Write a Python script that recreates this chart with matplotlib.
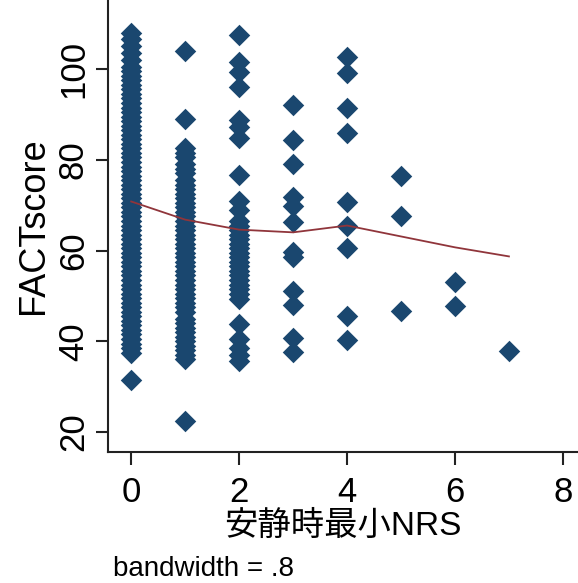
import matplotlib
matplotlib.use('Agg')
import matplotlib.pyplot as plt

plt.rcParams['font.family'] = ['Liberation Sans', 'Noto Sans CJK JP', 'DejaVu Sans']

# FACT score by resting minimum NRS
nrs_0 = [108, 106.5, 105, 103.5, 102, 100.5, 99.5, 98.5, 97.5, 96.5, 95.5, 94.5,
         93.5, 92.5, 91.5, 90.5, 89.5, 88.5, 87.5, 86.5, 85.5, 84.5, 83.5, 82.5,
         81.5, 80.5, 79.5, 78.5, 77.5, 76.5, 75.5, 74.5, 73.5, 72.5, 71.5, 70.5,
         69.5, 68.5, 67.5, 66.5, 65.5, 64.5, 63.5, 62.5, 61.5, 60.5, 59.5, 58.5,
         57.5, 56.5, 55.5, 54.5, 53.5, 52.5, 51.5, 50.5, 49.5, 48.5, 47.5, 46.5,
         45.5, 44.5, 43.5, 42.5, 41.5, 40.5, 39.5, 38.5, 37.5, 31.5]
nrs_1 = [104, 89, 82.5, 81.5, 80.5, 79, 78, 77, 75.5, 74.5, 73.5, 72.5, 71.5,
         70.5, 69.5, 68.5, 67.5, 66.5, 65.5, 64.5, 63.5, 62.5, 61.5, 60.5, 59.5,
         58.5, 57.5, 56.5, 55.5, 54.5, 53.5, 52.5, 51.5, 50.5, 49.5, 48.5, 47.5,
         46.5, 45, 44, 43, 42, 41, 40, 39, 38, 37, 36, 22.4]
nrs_2 = [107.5, 101.5, 99.3, 96, 88.8, 87.2, 84.8, 76.7, 70.8, 69, 66.5, 65.5,
         64.5, 63.5, 62.5, 61.5, 60.5, 59.5, 58.5, 57.5, 56.5, 55.5, 54.5, 53.5,
         52.5, 51.5, 50.5, 49.3, 43.7, 40.4, 38.6, 37, 35.6]
nrs_3 = [92.1, 84.4, 79.1, 71.9, 69.9, 66.2, 59.6, 58.5, 51, 48.1, 40.7, 37.6]
nrs_4 = [102.6, 99.2, 91.3, 86.0, 70.6, 65.3, 60.6, 45.6, 40.2]
nrs_5 = [76.4, 67.5, 46.7]
nrs_6 = [53.1, 47.8]
nrs_7 = [37.8]
groups = [nrs_0, nrs_1, nrs_2, nrs_3, nrs_4, nrs_5, nrs_6, nrs_7]

# lowess smooth, bandwidth .8
lowess_x = [0, 1, 2, 3, 4, 5, 6, 7]
lowess_y = [70.8, 66.8, 64.6, 64.0, 65.5, 63.1, 60.7, 58.7]

navy = '#1a476f'
maroon = '#90353b'

fig = plt.figure(figsize=(5.78, 5.83), dpi=100)
ax = fig.add_axes([108 / 578, 131 / 583, 470 / 578, 452 / 583])

for x, vals in enumerate(groups):
    ax.scatter([x] * len(vals), vals, marker='D', s=120, color=navy,
               linewidths=0, zorder=2)
ax.plot(lowess_x, lowess_y, color=maroon, lw=1.3, zorder=3)

ax.set_xlim(-0.43, 8.28)
ax.set_ylim(15.6, 115.2)
ax.set_xticks([0, 2, 4, 6, 8])
ax.set_yticks([20, 40, 60, 80, 100])
ax.tick_params(labelsize=25, length=9, width=1.5, color='#222222')
ax.tick_params(axis='x', pad=8)
ax.tick_params(axis='y', pad=4)
for lab in ax.get_yticklabels():
    lab.set_rotation(90)
    lab.set_va('center')

for side in ['top', 'right']:
    ax.spines[side].set_visible(False)
for side in ['left', 'bottom']:
    ax.spines[side].set_linewidth(1.5)
    ax.spines[side].set_color('#222222')

ax.set_xlabel('安静時最小NRS', fontsize=24, labelpad=2,
              family=['Liberation Sans', 'Noto Sans CJK JP'])
ax.set_ylabel('FACTscore', fontsize=26, labelpad=4)
fig.text(113 / 578, 1 - 569 / 583, 'bandwidth = .8', fontsize=20, va='center')

fig.savefig('out.png', dpi=100)
